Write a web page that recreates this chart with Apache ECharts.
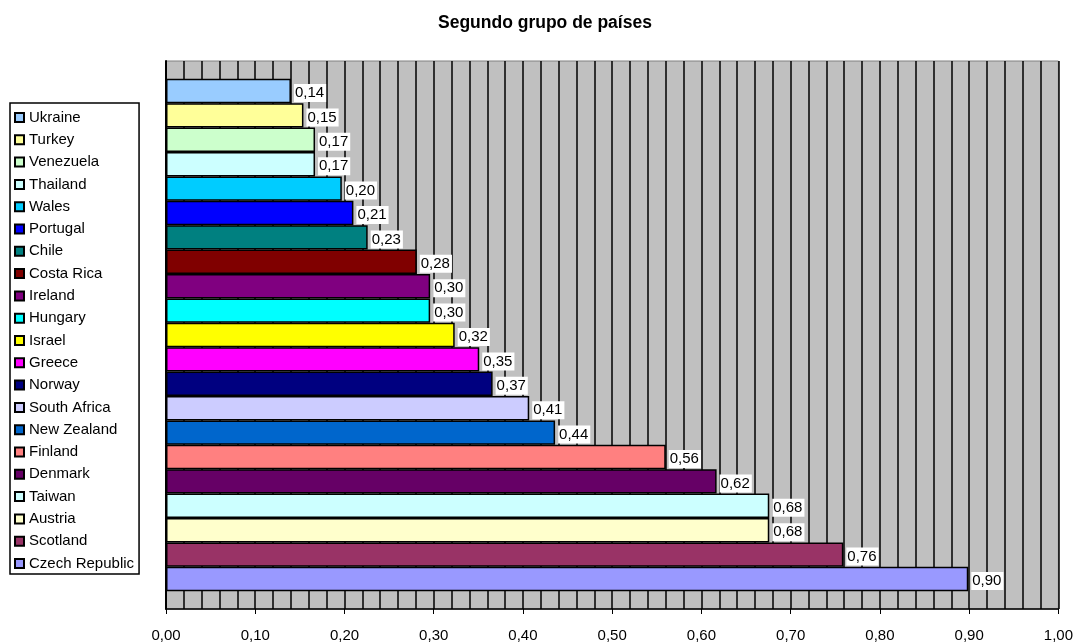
<!DOCTYPE html>
<html>
<head>
<meta charset="utf-8">
<script src="https://cdn.jsdelivr.net/npm/echarts@6/dist/echarts.min.js"></script>
<style>
  html, body { margin: 0; padding: 0; background: #fff; }
  #chart { width: 1076px; height: 643px; }
</style>
</head>
<body>
<div id="chart"></div>
<script>
// países, de arriba a abajo
const countries = [
  'Ukraine', 'Turkey', 'Venezuela', 'Thailand', 'Wales', 'Portugal', 'Chile',
  'Costa Rica', 'Ireland', 'Hungary', 'Israel', 'Greece', 'Norway',
  'South Africa', 'New Zealand', 'Finland', 'Denmark', 'Taiwan', 'Austria',
  'Scotland', 'Czech Republic'
]
const values = [
  0.140, 0.154, 0.167, 0.167, 0.197, 0.210, 0.226,
  0.281, 0.296, 0.296, 0.3235, 0.351, 0.366,
  0.407, 0.436, 0.560, 0.617, 0.676, 0.676,
  0.759, 0.899
]
const colors = [
  '#99CCFF', '#FFFF99', '#CCFFCC', '#CCFFFF', '#00CCFF', '#0000FF', '#008080',
  '#800000', '#800080', '#00FFFF', '#FFFF00', '#FF00FF', '#000080',
  '#CCCCFF', '#0066CC', '#FF8080', '#660066', '#CCFFFF', '#FFFFCC',
  '#993366', '#9999FF'
]
const xTicks = { min: 0, max: 1, interval: 0.1 }

const FONT = '"Liberation Sans", Arial, sans-serif'
const fmt = (v) => v.toFixed(2).replace('.', ',')

const chart = echarts.init(document.getElementById('chart'))

const series = countries.map((name, i) => ({
  name: name,
  type: 'bar',
  barGap: '0%',
  barCategoryGap: '6.5%',
  data: [values[i]],
  itemStyle: {
    color: colors[i],
    borderColor: '#000',
    borderWidth: 1.5,
  },
  label: {
    show: true,
    position: 'right',
    distance: 3,
    offset: [0, 2],
    formatter: (p) => fmt(p.value),
    color: '#000',
    fontFamily: FONT,
    fontSize: 15,
    lineHeight: 15,
    backgroundColor: '#fff',
    padding: [3, 2, 0, 1],
  },
}))

chart.setOption({
  animation: false,
  title: {
    text: 'Segundo grupo de países',
    left: 438,
    top: 14,
    padding: 0,
    textStyle: {
      fontFamily: FONT,
      fontSize: 17.5,
      fontWeight: 'bold',
      color: '#000',
    },
  },
  legend: {
    orient: 'vertical',
    left: 10,
    top: 103,
    data: countries,
    icon: 'rect',
    itemWidth: 9,
    itemHeight: 9,
    itemGap: 7.3,
    padding: [7, 5, 3, 4],
    borderColor: '#000',
    borderWidth: 1.5,
    backgroundColor: '#fff',
    selectedMode: false,
    textStyle: {
      fontFamily: FONT,
      fontSize: 15,
      lineHeight: 15,
      color: '#000',
    },
  },
  grid: {
    left: 166,
    right: 16,
    top: 61,
    bottom: 31,
    show: true,
    backgroundColor: '#C0C0C0',
    borderColor: '#808080',
    borderWidth: 1,
  },
  xAxis: {
    type: 'value',
    min: xTicks.min,
    max: xTicks.max,
    interval: xTicks.interval,
    axisLine: { show: true, lineStyle: { color: '#000', width: 1.5 } },
    axisTick: { show: true, length: 5, lineStyle: { color: '#000' } },
    axisLabel: {
      margin: 19,
      formatter: fmt,
      color: '#000',
      fontFamily: FONT,
      fontSize: 15,
    },
    splitLine: { show: true, lineStyle: { color: '#000', width: 1.5 } },
    minorTick: { show: false, splitNumber: 5 },
    minorSplitLine: { show: true, lineStyle: { color: '#000', width: 1.5 } },
  },
  yAxis: {
    type: 'category',
    data: [''],
    axisLine: { show: true, lineStyle: { color: '#000', width: 2 } },
    axisTick: { show: false },
    axisLabel: { show: false },
  },
  series: series,
})
</script>
</body>
</html>
